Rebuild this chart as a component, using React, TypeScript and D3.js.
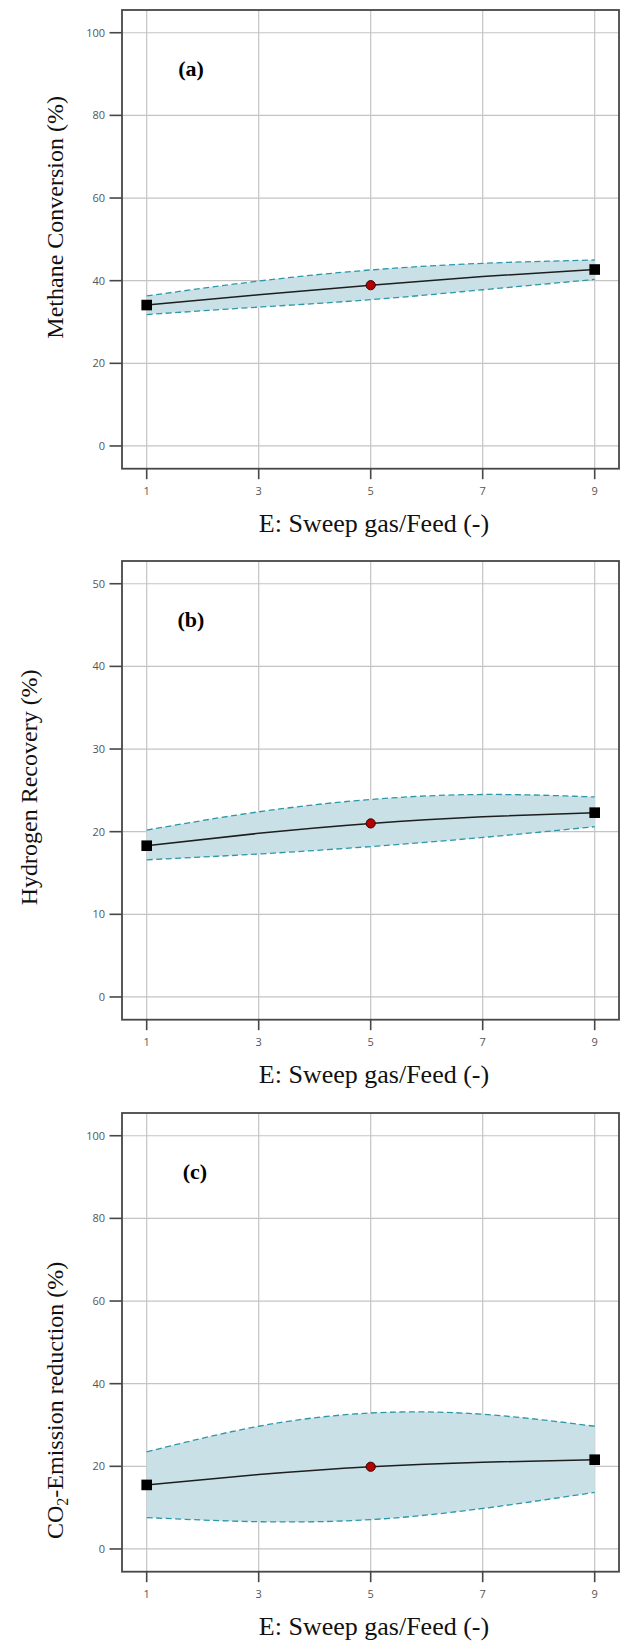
import React from "react";
import * as d3 from "d3";

// Factor levels of E (sweep gas / feed ratio) where the model is evaluated
const sweepRatio = [1, 3, 5, 7, 9];
const xTicks = [1, 3, 5, 7, 9];
const designPointX = [1, 5, 9];

// (a) Methane conversion, %
const methaneMean = [34.1, 36.6, 38.9, 41.0, 42.7];
const methaneUpper = [36.3, 39.9, 42.6, 44.2, 45.0];
const methaneLower = [31.8, 33.6, 35.4, 37.8, 40.3];
const methaneTicks = [0, 20, 40, 60, 80, 100];

// (b) Hydrogen recovery, %
const hydrogenMean = [18.3, 19.8, 21.0, 21.8, 22.3];
const hydrogenUpper = [20.2, 22.4, 23.9, 24.5, 24.2];
const hydrogenLower = [16.6, 17.3, 18.2, 19.3, 20.6];
const hydrogenTicks = [0, 10, 20, 30, 40, 50];

// (c) CO2-emission reduction, %
const co2Mean = [15.5, 18.0, 19.9, 21.0, 21.6];
const co2Upper = [23.5, 29.7, 32.9, 32.6, 29.7];
const co2Lower = [7.6, 6.6, 7.1, 9.8, 13.7];
const co2Ticks = [0, 20, 40, 60, 80, 100];

const W = 624;
const H = 1650;
const LEFT = 122;
const RIGHT = 619;
const PANEL_H = 458.7;

const SANS = "'Open Sans', 'Noto Sans', sans-serif";
const SERIF = "'Liberation Serif', 'Times New Roman', serif";

type PanelProps = {
  top: number;
  tag: string;
  tagX: number;
  mean: number[];
  upper: number[];
  lower: number[];
  yTicks: number[];
  yMax: number;
  yLabel: React.ReactNode;
  yLabelX: number;
  yLabelOffset: number;
};

function Panel({ top, tag, tagX, mean, upper, lower, yTicks, yMax, yLabel, yLabelX, yLabelOffset }: PanelProps) {
  const pad = yMax * 0.055;
  const x = d3.scaleLinear().domain([0.559, 9.434]).range([LEFT, RIGHT]);
  const y = d3.scaleLinear().domain([-pad, yMax + pad]).range([top + PANEL_H, top]);
  const bottom = top + PANEL_H;

  const rows = sweepRatio.map((v, i) => ({ x: v, m: mean[i], hi: upper[i], lo: lower[i] }));
  const curve = d3.curveNatural;

  const band = d3
    .area<(typeof rows)[number]>()
    .x((d) => x(d.x))
    .y0((d) => y(d.lo))
    .y1((d) => y(d.hi))
    .curve(curve)(rows) as string;
  const lineOf = (key: "m" | "hi" | "lo") =>
    d3
      .line<(typeof rows)[number]>()
      .x((d) => x(d.x))
      .y((d) => y(d[key]))
      .curve(curve)(rows) as string;

  const points = rows.filter((r) => designPointX.includes(r.x));
  const center = (top + bottom) / 2 + yLabelOffset;

  return (
    <g>
      {/* grid */}
      {xTicks.map((t) => (
        <line key={"gx" + t} x1={x(t)} x2={x(t)} y1={top} y2={bottom} stroke="#c4c4c4" strokeWidth={1.2} />
      ))}
      {yTicks.map((t) => (
        <line key={"gy" + t} x1={LEFT} x2={RIGHT} y1={y(t)} y2={y(t)} stroke="#c4c4c4" strokeWidth={1.2} />
      ))}

      {/* confidence band */}
      <path d={band} fill="#c9e1e6" stroke="none" />
      <path d={lineOf("hi")} fill="none" stroke="#2b98a8" strokeWidth={1.3} strokeDasharray="6,3.5" />
      <path d={lineOf("lo")} fill="none" stroke="#2b98a8" strokeWidth={1.3} strokeDasharray="6,3.5" />

      {/* predicted response */}
      <path d={lineOf("m")} fill="none" stroke="#1e1e1e" strokeWidth={1.5} />
      {points.map((p) =>
        p.x === 5 ? (
          <circle key={"p" + p.x} cx={x(p.x)} cy={y(p.m)} r={4.6} fill="#b30000" stroke="#3a0000" strokeWidth={1} />
        ) : (
          <rect key={"p" + p.x} x={x(p.x) - 5.3} y={y(p.m) - 5.3} width={10.6} height={10.6} fill="#000" />
        )
      )}

      {/* frame */}
      <rect x={LEFT} y={top} width={RIGHT - LEFT} height={PANEL_H} fill="none" stroke="#474747" strokeWidth={1.8} />

      {/* y axis ticks */}
      {yTicks.map((t) => (
        <g key={"ty" + t}>
          <line x1={LEFT - 12.5} x2={LEFT} y1={y(t)} y2={y(t)} stroke="#474747" strokeWidth={1.6} />
          <text x={LEFT - 17} y={y(t) + 4} textAnchor="end" fontFamily={SANS} fontSize={11} fill="#555">
            {t}
          </text>
        </g>
      ))}

      {/* x axis ticks */}
      {xTicks.map((t) => (
        <g key={"tx" + t}>
          <line x1={x(t)} x2={x(t)} y1={bottom} y2={bottom + 10.5} stroke="#474747" strokeWidth={1.6} />
          <text x={x(t)} y={bottom + 26} textAnchor="middle" fontFamily={SANS} fontSize={11} fill="#555">
            {t}
          </text>
        </g>
      ))}

      <text x={374} y={bottom + 63} textAnchor="middle" fontFamily={SERIF} fontSize={26} fill="#111">
        E: Sweep gas/Feed (-)
      </text>

      <text
        transform={`translate(${yLabelX},${center}) rotate(-90)`}
        textAnchor="middle"
        fontFamily={SERIF}
        fontSize={24}
        fill="#111"
      >
        {yLabel}
      </text>

      <text x={tagX} y={top + 66} textAnchor="middle" fontFamily={SERIF} fontWeight="bold" fontSize={22} fill="#000">
        {tag}
      </text>
    </g>
  );
}

export default function App() {
  return (
    <svg
      width={W}
      height={H}
      viewBox={`0 0 ${W} ${H}`}
      style={{ position: "absolute", left: 0, top: 0, display: "block", background: "#fff" }}
    >
      <rect width={W} height={H} fill="#fff" />
      <Panel
        top={10}
        tag="(a)"
        tagX={191}
        mean={methaneMean}
        upper={methaneUpper}
        lower={methaneLower}
        yTicks={methaneTicks}
        yMax={100}
        yLabel="Methane Conversion (%)"
        yLabelX={63}
        yLabelOffset={-22}
      />
      <Panel
        top={561}
        tag="(b)"
        tagX={191}
        mean={hydrogenMean}
        upper={hydrogenUpper}
        lower={hydrogenLower}
        yTicks={hydrogenTicks}
        yMax={50}
        yLabel="Hydrogen Recovery (%)"
        yLabelX={37}
        yLabelOffset={-3}
      />
      <Panel
        top={1113}
        tag="(c)"
        tagX={195}
        mean={co2Mean}
        upper={co2Upper}
        lower={co2Lower}
        yTicks={co2Ticks}
        yMax={100}
        yLabel={
          <>
            CO<tspan fontSize={16} dy={5}>2</tspan>
            <tspan dy={-5}>-Emission reduction (%)</tspan>
          </>
        }
        yLabelX={63}
        yLabelOffset={58}
      />
    </svg>
  );
}
